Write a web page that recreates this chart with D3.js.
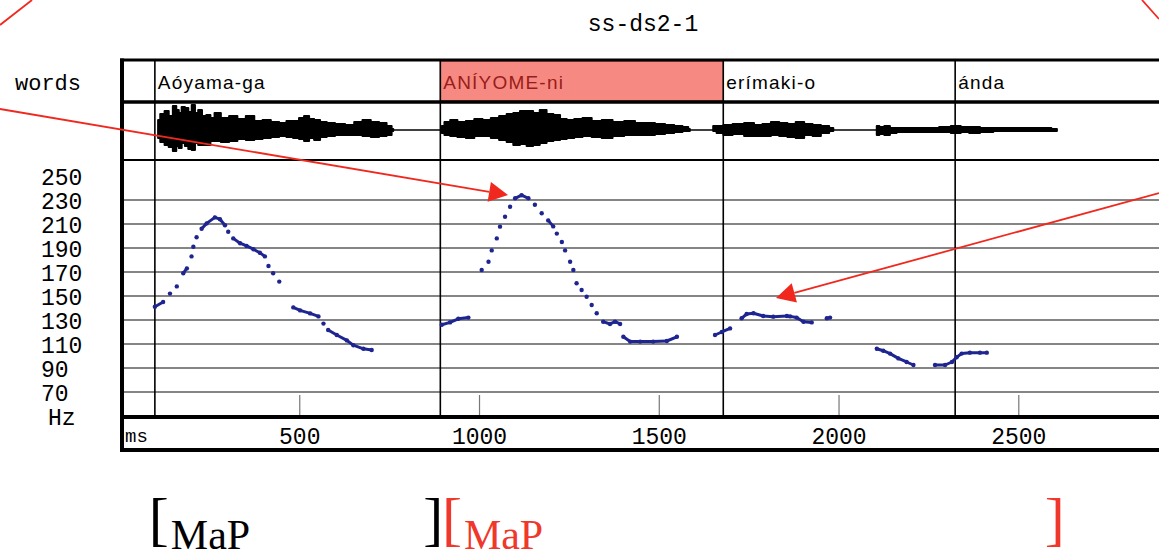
<!DOCTYPE html>
<html>
<head>
<meta charset="utf-8">
<script src="https://cdnjs.cloudflare.com/ajax/libs/d3/7.8.5/d3.min.js"></script>
<style>
  body { margin: 0; background: #fff; }
  svg { display: block; }
</style>
</head>
<body>
<div class="pitch-chart"></div>
<script>
// ---- data ----
var title = "ss-ds2-1";

var words = ["Aóyama-ga", "ANÍYOME-ni", "erímaki-o", "ánda"];
var wordStart = [97, 891, 1678, 2323];     // ms
var wordEnd = [891, 1678, 2323, 2900];
var focusWord = 1;

var hzLabels = [250, 230, 210, 190, 170, 150, 130, 110, 90, 70];
var hzGrid = [230, 210, 190, 170, 150, 130, 110, 90, 70];
var msTicks = [500, 1000, 1500, 2000, 2500];

// waveform envelope: [ms, upper, lower] (arbitrary amplitude)
var wave1 = [[106,10,8],[118,16,12],[130,19,15],[141,14,17],[153,24,21],[160,20,16],[167,17,18],[176,23,13],[185,22,16],[195,18,19],[204,25,20],[213,17,13],[222,20,15],[234,14,15],[246,15,15],[257,12,11],[269,17,11],[292,12,12],[315,14,11],[338,11,9],[362,14,10],[385,9,9],[408,10,8],[431,8,7],[454,7,6],[472,9,7],[491,9,8],[505,12,9],[519,14,11],[533,11,8],[547,10,10],[566,8,7],[584,7,6],[612,6,5],[640,5,5],[663,8,5],[686,10,6],[709,8,7],[732,7,6],[751,4,5],[760,1,1]];
var wave2 = [[895,4,3],[910,8,5],[927,10,6],[950,8,7],[974,9,8],[997,11,6],[1020,10,6],[1043,12,8],[1066,14,10],[1085,16,12],[1103,17,15],[1122,19,14],[1140,19,16],[1158,17,15],[1177,20,13],[1196,16,11],[1215,15,10],[1233,11,9],[1252,10,8],[1275,11,7],[1298,12,6],[1326,9,7],[1354,10,8],[1386,8,6],[1419,9,5],[1446,7,5],[1474,7,5],[1502,6,4],[1530,5,3],[1553,4,2],[1576,3,1],[1585,1,1]];
var wave3 = [[1650,4,1],[1669,4,3],[1688,5,5],[1720,6,4],[1752,7,6],[1775,5,6],[1799,6,6],[1822,8,5],[1845,7,6],[1868,6,7],[1891,8,8],[1915,6,5],[1938,5,6],[1961,4,3],[1984,2,1]];
var wave4 = [[2105,4,5],[2119,3,4],[2133,4,5],[2150,2,3],[2170,2,2],[2215,2,2],[2262,2,2],[2295,3,2],[2327,4,3],[2350,3,2],[2374,3,3],[2410,2,2],[2448,2,1],[2495,2,1],[2540,2,1],[2575,2,1],[2606,1,1]];

// pitch track: [ms, Hz]
var pitchA1 = [[97,141],[120,145],[139,152],[158,158],[176,169],[186,173],[199,183],[204,191],[213,199],[227,206],[241,210.5],[264,215.5],[278,214],[292,209],[301,203.6],[315,198],[334,194],[352,191.7],[371,189],[389,186],[403,183],[413,175],[426,169],[443,162]];
var pitchA2 = [[482,140.5],[501,138],[529,135.5],[552,133],[566,127],[579,121.7],[603,117.5],[631,113],[649,109],[677,106],[700,105]];
var pitchB1 = [[895,126],[918,128],[941,131],[969,132]];
var pitchB2 = [[1006,171.7],[1025,178.6],[1034,188],[1048,198],[1057,207.8],[1071,216],[1085,224.4],[1099,231.4],[1117,234],[1136,231.4],[1154,226],[1173,219],[1191,213],[1205,208],[1215,202],[1229,195],[1238,188],[1252,178.6],[1261,171.7],[1270,160.6],[1284,155],[1298,149.4],[1312,142.5],[1326,135.6],[1344,128.6],[1363,126.7],[1377,128.6],[1391,126.7]];
var pitchB3 = [[1400,116],[1419,112],[1447,112],[1483,112],[1521,112.5],[1549,116]];
var pitchC1 = [[1655,117.5],[1674,120],[1697,123]];
var pitchC2 = [[1729,131.4],[1743,135],[1762,135.6],[1789,133.3],[1817,132.8],[1855,133.3],[1864,133],[1882,132],[1901,128.6],[1924,128],[1966,131.4],[1975,132]];
var pitchD1 = [[2105,106],[2123,104.4],[2142,102],[2165,98],[2188,95],[2207,92.5]];
var pitchD2 = [[2267,92.5],[2295,92.5],[2314,95],[2327,99],[2341,102],[2364,102.8],[2392,102.8],[2411,102.8]];

// bracketed phrases under the chart: [start ms, end ms]
var phraseLabels = ["MaP", "MaP"];
var phraseSpan = [[97, 888], [912, 2617]];
var phraseColors = ["#000", "#f0372c"];

function makeChart(){
	var width = 1159,
			height = 558;

	var svg = d3.select(".pitch-chart").append("svg")
			.attr("width", width)
			.attr("height", height)
			.style("background", "#fff");

	var frameLeft = 122,
			frameTop = 60,
			wordBottom = 102,
			waveBottom = 160,
			pitchBottom = 417,
			axisBottom = 450;

	var x = d3.scaleLinear().domain([0, 2900]).range([120, 1162.6]);
	var y = d3.scaleLinear().domain([50, 263.33]).range([416, 160]);
	var yWave = d3.scaleLinear().domain([-30, 30]).range([160, 100]);

	var mono = "'Liberation Mono', 'DejaVu Sans Mono', monospace";

	// title
	svg.append("text")
			.attr("x", 643)
			.attr("y", 31)
			.attr("text-anchor", "middle")
			.style("font-family", mono)
			.style("font-size", "23px")
			.text(title);

	// focus word highlight
	svg.append("rect")
			.attr("x", x(wordStart[focusWord]))
			.attr("y", frameTop + 1)
			.attr("width", x(wordEnd[focusWord]) - x(wordStart[focusWord]))
			.attr("height", wordBottom - frameTop - 2)
			.attr("fill", "#f68a82")
			.attr("stroke", "#a0302a")
			.attr("stroke-width", 1);

	// grid lines
	svg.selectAll(".grid").data(hzGrid).enter().append("line")
			.attr("class", "grid")
			.attr("x1", frameLeft)
			.attr("x2", width)
			.attr("y1", function(d){ return y(d) })
			.attr("y2", function(d){ return y(d) })
			.style("stroke", "#5c5c5c")
			.style("stroke-width", 1.6);

	// time ticks
	svg.selectAll(".tick").data(msTicks).enter().append("line")
			.attr("class", "tick")
			.attr("x1", function(d){ return x(d) })
			.attr("x2", function(d){ return x(d) })
			.attr("y1", 395)
			.attr("y2", pitchBottom)
			.style("stroke", "#777")
			.style("stroke-width", 1.2);

	// word boundaries
	svg.selectAll(".bound").data(wordStart).enter().append("line")
			.attr("class", "bound")
			.attr("x1", function(d){ return x(d) })
			.attr("x2", function(d){ return x(d) })
			.attr("y1", frameTop)
			.attr("y2", pitchBottom)
			.style("stroke", "#000")
			.style("stroke-width", 1.6);

	// frame
	var hLines = [[frameTop, 3], [wordBottom, 3.5], [waveBottom, 2], [pitchBottom, 4], [axisBottom, 4]];
	hLines.forEach(function(l){
		svg.append("line")
				.attr("x1", frameLeft - 2)
				.attr("x2", width)
				.attr("y1", l[0])
				.attr("y2", l[0])
				.style("stroke", "#000")
				.style("stroke-width", l[1]);
	});
	svg.append("line")
			.attr("x1", frameLeft)
			.attr("x2", frameLeft)
			.attr("y1", frameTop - 1.5)
			.attr("y2", axisBottom + 2)
			.style("stroke", "#000")
			.style("stroke-width", 4);

	// word labels
	svg.selectAll(".word").data(words).enter().append("text")
			.attr("class", "word")
			.attr("x", function(d, i){ return x(wordStart[i]) + 3 })
			.attr("y", 89)
			.style("font-family", "'Liberation Sans', Arial, sans-serif")
			.style("font-size", "19px")
			.style("letter-spacing", "1.2px")
			.style("fill", function(d, i){ return i === focusWord ? "#9a1c18" : "#000" })
			.text(function(d){ return d });

	// waveform
	var waves = [wave1, wave2, wave3, wave4];
	svg.append("line")
			.attr("x1", x(wave1[0][0]))
			.attr("x2", x(wave4[wave4.length - 1][0]))
			.attr("y1", yWave(0))
			.attr("y2", yWave(0))
			.style("stroke", "#000")
			.style("stroke-width", 1.5);

	var area = d3.area()
			.curve(d3.curveStep)
			.x(function(d){ return x(d[0]) })
			.y0(function(d){ return yWave(-d[2]) })
			.y1(function(d){ return yWave(d[1]) });

	svg.selectAll(".wave").data(waves).enter().append("path")
			.attr("class", "wave")
			.attr("d", area)
			.attr("fill", "#000")
			.attr("stroke", "#000")
			.attr("stroke-width", 2)
			.attr("stroke-linejoin", "round");

	// pitch track
	var pitchColor = "#1f2590";
	var segs = [pitchA1, pitchA2, pitchB1, pitchB2, pitchB3, pitchC1, pitchC2, pitchD1, pitchD2];
	segs.forEach(function(seg){
		var pairs = [];
		for (var i = 1; i < seg.length; i++){
			var a = seg[i - 1], b = seg[i];
			if (b[0] - a[0] <= 40 && Math.abs(b[1] - a[1]) <= 5) pairs.push([a, b]);
		}
		svg.append("g").selectAll("line").data(pairs).enter().append("line")
				.attr("x1", function(d){ return x(d[0][0]) })
				.attr("y1", function(d){ return y(d[0][1]) })
				.attr("x2", function(d){ return x(d[1][0]) })
				.attr("y2", function(d){ return y(d[1][1]) })
				.style("stroke", pitchColor)
				.style("stroke-width", 3)
				.style("stroke-linecap", "round");
		svg.append("g").selectAll("circle").data(seg).enter().append("circle")
				.attr("cx", function(d){ return x(d[0]) })
				.attr("cy", function(d){ return y(d[1]) })
				.attr("r", 2.2)
				.attr("fill", pitchColor);
	});

	// y labels
	svg.append("text")
			.attr("x", 15)
			.attr("y", 90)
			.style("font-family", mono)
			.style("font-size", "22px")
			.text("words");

	svg.selectAll(".hz").data(hzLabels).enter().append("text")
			.attr("class", "hz")
			.attr("x", 41)
			.attr("y", function(d){ return y(d) + 9 })
			.style("font-family", mono)
			.style("font-size", "23px")
			.text(function(d){ return d });

	svg.append("text")
			.attr("x", 48)
			.attr("y", y(50) + 9)
			.style("font-family", mono)
			.style("font-size", "23px")
			.text("Hz");

	// time labels
	svg.append("text")
			.attr("x", 125)
			.attr("y", 442)
			.style("font-family", mono)
			.style("font-size", "19px")
			.text("ms");

	svg.selectAll(".ms").data(msTicks).enter().append("text")
			.attr("class", "ms")
			.attr("x", function(d){ return x(d) })
			.attr("y", 444)
			.attr("text-anchor", "middle")
			.style("font-family", mono)
			.style("font-size", "23px")
			.text(function(d){ return d });

	// phrase brackets
	var serif = "'Liberation Serif', 'Times New Roman', serif";
	phraseLabels.forEach(function(lab, i){
		var g = svg.append("g").style("fill", phraseColors[i]).style("font-family", serif);
		g.append("text")
				.attr("x", x(phraseSpan[i][0]) - 6)
				.attr("y", 539)
				.style("font-size", "60px")
				.text("[");
		g.append("text")
				.attr("x", x(phraseSpan[i][0]) + 16)
				.attr("y", 549)
				.style("font-size", "42px")
				.text(lab);
		g.append("text")
				.attr("x", x(phraseSpan[i][1]) + 4)
				.attr("y", 539)
				.attr("text-anchor", "end")
				.style("font-size", "60px")
				.text("]");
	});

	// red annotation arrows
	var red = "#f0281e";
	var arrows = [[[0, 109], [508, 195]], [[1159, 193], [776, 298]]];
	arrows.forEach(function(a){
		var p0 = a[0], p1 = a[1];
		var ang = Math.atan2(p1[1] - p0[1], p1[0] - p0[0]);
		var len = 19, half = 10;
		var bx = p1[0] - len * Math.cos(ang), by = p1[1] - len * Math.sin(ang);
		svg.append("line")
				.attr("x1", p0[0]).attr("y1", p0[1])
				.attr("x2", bx).attr("y2", by)
				.style("stroke", red)
				.style("stroke-width", 1.8);
		var pts = [
			[p1[0], p1[1]],
			[bx + half * Math.sin(ang), by - half * Math.cos(ang)],
			[bx - half * Math.sin(ang), by + half * Math.cos(ang)]
		];
		svg.append("polygon")
				.attr("points", pts.map(function(p){ return p.join(",") }).join(" "))
				.attr("fill", red);
	});

	// corners of the red outline
	var corners = [[[0, 25], [32, 0]], [[1142, 0], [1159, 19]]];
	corners.forEach(function(c){
		svg.append("line")
				.attr("x1", c[0][0]).attr("y1", c[0][1])
				.attr("x2", c[1][0]).attr("y2", c[1][1])
				.style("stroke", red)
				.style("stroke-width", 1.8);
	});
}

makeChart();
</script>
</body>
</html>
